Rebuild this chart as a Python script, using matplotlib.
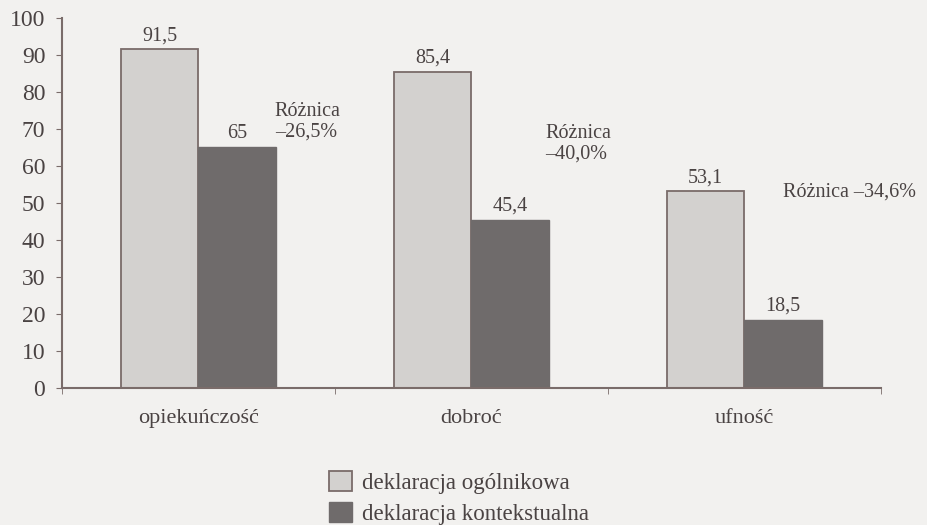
import matplotlib.pyplot as plt
import numpy as np

categories = ["opiekuńczość", "dobroć", "ufność"]
ogolnikowa = [91.5, 85.4, 53.1]
kontekstualna = [65, 45.4, 18.5]
roznice = ["Różnica\n–26,5%", "Różnica\n–40,0%", "Różnica –34,6%"]
series_names = ["deklaracja ogólnikowa", "deklaracja kontekstualna"]

plt.rcParams['font.family'] = ['Liberation Serif', 'DejaVu Serif']
txt = '#4a4343'
bg = '#f2f1ef'
light = '#d3d1cf'
dark = '#6f6b6b'
edge = '#7a6c6a'

fig = plt.figure(figsize=(9.27, 5.25), dpi=100, facecolor=bg)
ax = fig.add_axes([0.0669, 0.261, 0.8833, 0.705])
ax.set_facecolor(bg)

x = np.arange(len(categories))
w = 0.285
b1 = ax.bar(x - w/2, ogolnikowa, w, color=light, edgecolor=edge, linewidth=1.3, label=series_names[0])
b2 = ax.bar(x + w/2, kontekstualna, w, color=dark, edgecolor=dark, linewidth=1.0, label=series_names[1])

fmt = lambda v: ("%g" % v).replace('.', ',')
ax.bar_label(b1, labels=[fmt(v) for v in ogolnikowa], padding=3, fontsize=14.5, color=txt)
ax.bar_label(b2, labels=[fmt(v) for v in kontekstualna], padding=3, fontsize=14.5, color=txt)

# annotations with the difference
ax.text(0.28, 72, roznice[0], fontsize=14.5, color=txt, va='center', linespacing=1.1)
ax.text(1.27, 66, roznice[1], fontsize=14.5, color=txt, va='center', linespacing=1.1)
ax.text(2.14, 53, roznice[2], fontsize=14.5, color=txt, va='center')

ax.set_xlim(-0.5, 2.5)
ax.set_ylim(0, 100)
ax.set_yticks(range(0, 101, 10))
ax.set_xticks(x)
ax.set_xticklabels(categories)
ax.set_xticks([-0.5, 0.5, 1.5, 2.5], minor=True)
ax.tick_params(axis='x', which='major', length=0, pad=15, labelsize=16, labelcolor=txt)
ax.tick_params(axis='x', which='minor', length=4, color=edge, direction='out')
ax.tick_params(axis='y', length=4, color=edge, labelsize=17, labelcolor=txt, pad=8)

for s in ['top', 'right']:
    ax.spines[s].set_visible(False)
for s in ['left', 'bottom']:
    ax.spines[s].set_color(edge)
    ax.spines[s].set_linewidth(1.5)

fig.legend(handles=[b1, b2], loc='upper left', bbox_to_anchor=(0.343, 0.125),
           frameon=False, fontsize=16.5, labelcolor=txt, handlelength=1.0,
           handleheight=1.0, handletextpad=0.4, labelspacing=0.35, borderpad=0)

fig.savefig('out.png', dpi=100, facecolor=bg)
